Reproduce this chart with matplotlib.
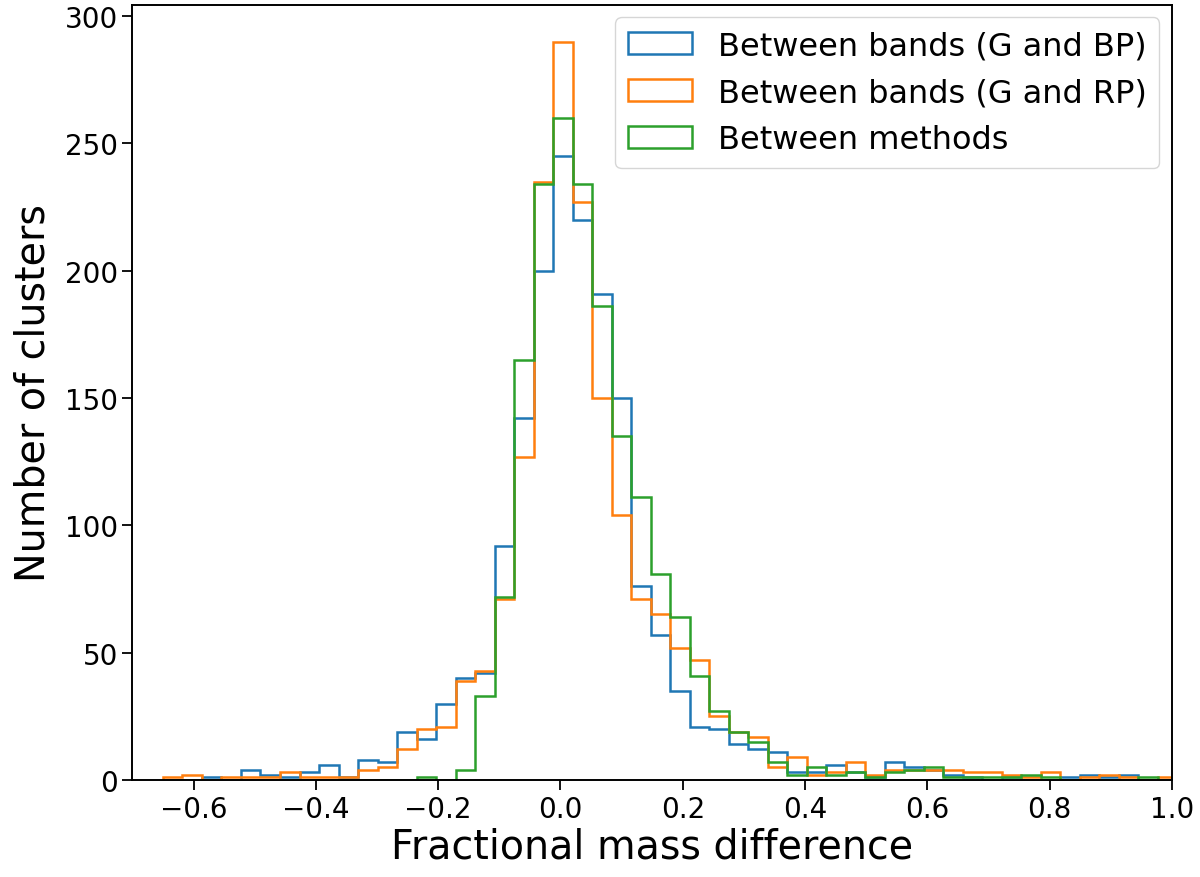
import numpy as np
import matplotlib
matplotlib.use('Agg')
import matplotlib.pyplot as plt

# Histogram binning (shared by all three series)
bin_start = -0.65
bin_width = 0.0319
n_bins = 52

series_labels = ['Between bands (G and BP)',
                 'Between bands (G and RP)',
                 'Between methods']

counts_g_bp = [0, 0, 1, 0, 4, 2, 1, 3, 6, 1,
               8, 7, 19, 16, 30, 40, 42, 92, 142, 200,
               245, 220, 191, 150, 76, 57, 35, 21, 20, 14,
               12, 11, 3, 3, 6, 3, 1, 7, 5, 4,
               2, 1, 0, 1, 0, 0, 1, 2, 1, 2,
               0, 0]

counts_g_rp = [1, 2, 0, 1, 1, 1, 3, 1, 1, 1,
               4, 5, 12, 20, 21, 39, 43, 71, 127, 235,
               290, 227, 150, 104, 71, 65, 52, 47, 25, 19,
               17, 5, 9, 2, 3, 7, 2, 4, 4, 4,
               4, 3, 3, 2, 1, 3, 0, 1, 2, 1,
               0, 1]

counts_methods = [0, 0, 0, 0, 0, 0, 0, 0, 0, 0,
                  0, 0, 0, 1, 0, 4, 33, 72, 165, 234,
                  260, 234, 186, 135, 111, 81, 64, 41, 27, 19,
                  15, 7, 2, 5, 2, 3, 1, 3, 4, 5,
                  1, 1, 1, 1, 2, 1, 0, 0, 0, 0,
                  1, 0]

x_limits = (-0.7, 1.0)

edges = bin_start + bin_width * np.arange(n_bins + 1)
centers = 0.5 * (edges[:-1] + edges[1:])

fig = plt.figure(figsize=(12, 8.78), dpi=100)
ax = fig.add_axes([0.1103, 0.1105, 0.8664, 0.883])

for counts, label in zip([counts_g_bp, counts_g_rp, counts_methods], series_labels):
    ax.hist(centers, bins=edges, weights=counts, histtype='step',
            linewidth=1.8, label=label)

ax.set_xlim(*x_limits)
ax.set_xlabel('Fractional mass difference', fontsize=28.5, labelpad=3)
ax.set_ylabel('Number of clusters', fontsize=28.5, labelpad=8)
ax.tick_params(labelsize=20, length=7, width=1.3)
for sp in ax.spines.values():
    sp.set_linewidth(1.4)
ax.legend(loc='upper right', fontsize=23, borderaxespad=0.4)

fig.savefig('out.png', dpi=100)
